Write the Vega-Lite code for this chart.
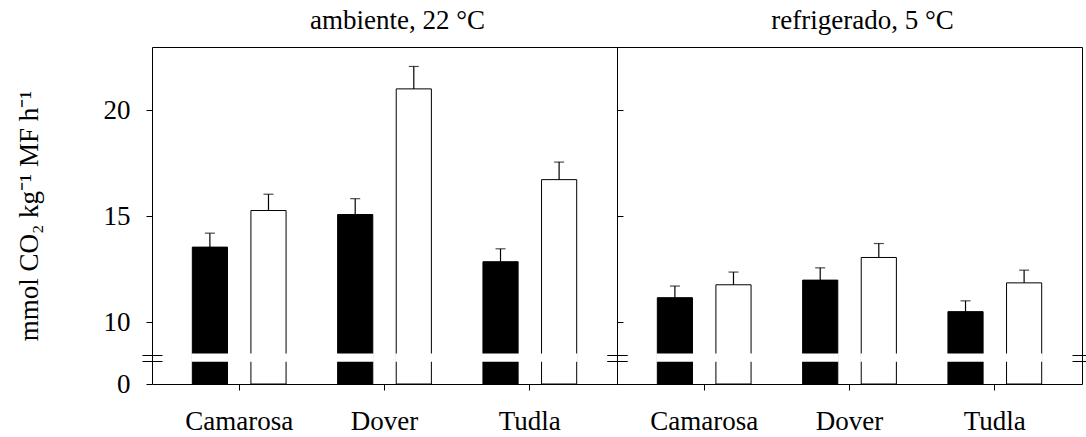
{
  "$schema": "https://vega.github.io/schema/vega-lite/v6.json",
  "padding": {"left": 14, "top": 6, "right": 0, "bottom": 0},
  "bounds": "flush",
  "background": "white",
  "config": {
    "font": "Liberation Serif",
    "view": {"stroke": "black", "strokeWidth": 1},
    "axis": {"domainColor": "black", "tickColor": "black", "labelColor": "black", "titleColor": "black", "labelFont": "Liberation Serif", "titleFont": "Liberation Serif", "labelFontSize": 27, "titleFontSize": 27, "titleFontWeight": "normal", "grid": false, "tickSize": 6, "domainWidth": 1, "tickWidth": 1},
    "title": {"font": "Liberation Serif", "fontSize": 27, "fontWeight": "normal", "color": "black"},
    "concat": {"spacing": 0}
  },
  "datasets": {
    "d": [
      {"panel": "ambiente", "cultivar": "Camarosa", "trat": "1", "valor": 13.54, "sup": 14.2},
      {"panel": "ambiente", "cultivar": "Camarosa", "trat": "2", "valor": 15.27, "sup": 16.04},
      {"panel": "ambiente", "cultivar": "Dover", "trat": "1", "valor": 15.08, "sup": 15.83},
      {"panel": "ambiente", "cultivar": "Dover", "trat": "2", "valor": 21.02, "sup": 22.08},
      {"panel": "ambiente", "cultivar": "Tudla", "trat": "1", "valor": 12.85, "sup": 13.46},
      {"panel": "ambiente", "cultivar": "Tudla", "trat": "2", "valor": 16.73, "sup": 17.56},
      {"panel": "refrigerado", "cultivar": "Camarosa", "trat": "1", "valor": 11.15, "sup": 11.7},
      {"panel": "refrigerado", "cultivar": "Camarosa", "trat": "2", "valor": 11.76, "sup": 12.36},
      {"panel": "refrigerado", "cultivar": "Dover", "trat": "1", "valor": 11.98, "sup": 12.56},
      {"panel": "refrigerado", "cultivar": "Dover", "trat": "2", "valor": 13.05, "sup": 13.71},
      {"panel": "refrigerado", "cultivar": "Tudla", "trat": "1", "valor": 10.49, "sup": 11.0},
      {"panel": "refrigerado", "cultivar": "Tudla", "trat": "2", "valor": 11.85, "sup": 12.45}
    ]
  },
  "hconcat": [
    {
      "width": 465, "height": 337,
      "title": {"text": "ambiente, 22 °C", "offset": 12, "dx": 13},
      "data": {"name": "d"},
      "transform": [{"filter": "datum.panel === 'ambiente'"}],
      "encoding": {
        "x": {"field": "cultivar", "type": "nominal", "sort": ["Camarosa", "Dover", "Tudla"], "scale": {"paddingInner": 0, "paddingOuter": 0.1}, "axis": {"title": null, "labelAngle": 0, "labelPadding": 18, "domain": false}},
        "xOffset": {"field": "trat", "type": "nominal", "scale": {"paddingInner": 0.4, "paddingOuter": 0.44}}
      },
      "layer": [
        {
          "mark": {"type": "bar", "stroke": "black", "strokeWidth": 1},
          "encoding": {
            "y": {"field": "valor", "type": "quantitative", "scale": {"domain": [0, 10, 23], "range": [337, 275, 0], "zero": false, "nice": false},
                  "axis": {"orient": "left", "values": [0, 10, 15, 20], "title": "mmol CO₂ kg⁻¹ MF h⁻¹", "labelPadding": 16, "titlePadding": 60, "domain": false}},
            "fill": {"field": "trat", "type": "nominal", "scale": {"domain": ["1", "2"], "range": ["black", "white"]}, "legend": null}
          }
        },
        {
          "mark": {"type": "bar", "fill": "white", "stroke": "white", "strokeWidth": 2},
          "encoding": {
            "y": {"datum": 3.75, "type": "quantitative", "scale": {"domain": [0, 10, 23], "range": [337, 275, 0], "zero": false, "nice": false},
                  "axis": {"orient": "left", "offset": -10, "tickSize": 20, "values": [3.75, 4.75], "labels": false, "domain": false, "title": null}},
            "y2": {"datum": 4.75}
          }
        },
        {
          "mark": {"type": "rule", "color": "black", "strokeWidth": 1.2},
          "encoding": {
            "y": {"field": "valor", "type": "quantitative", "scale": {"domain": [0, 10, 23], "range": [337, 275, 0], "zero": false, "nice": false},
                  "axis": {"orient": "right", "offset": -10, "tickSize": 20, "values": [3.75, 4.75], "labels": false, "domain": false, "title": null}},
            "y2": {"field": "sup"}
          }
        },
        {
          "mark": {"type": "tick", "color": "black", "size": 10, "thickness": 1.2, "orient": "horizontal"},
          "encoding": {
            "y": {"field": "sup", "type": "quantitative", "scale": {"domain": [0, 10, 23], "range": [337, 275, 0], "zero": false, "nice": false}, "axis": null}
          }
        }
      ],
      "resolve": {"axis": {"y": "independent"}}
    },
    {
      "width": 465, "height": 337,
      "title": {"text": "refrigerado, 5 °C", "offset": 12, "dx": 13},
      "data": {"name": "d"},
      "transform": [{"filter": "datum.panel === 'refrigerado'"}],
      "encoding": {
        "x": {"field": "cultivar", "type": "nominal", "sort": ["Camarosa", "Dover", "Tudla"], "scale": {"paddingInner": 0, "paddingOuter": 0.1}, "axis": {"title": null, "labelAngle": 0, "labelPadding": 18, "domain": false}},
        "xOffset": {"field": "trat", "type": "nominal", "scale": {"paddingInner": 0.4, "paddingOuter": 0.44}}
      },
      "layer": [
        {
          "mark": {"type": "bar", "stroke": "black", "strokeWidth": 1},
          "encoding": {
            "y": {"field": "valor", "type": "quantitative", "scale": {"domain": [0, 10, 23], "range": [337, 275, 0], "zero": false, "nice": false},
                  "axis": {"orient": "left", "offset": -6, "values": [10, 15, 20], "labels": false, "title": null, "domain": false}},
            "fill": {"field": "trat", "type": "nominal", "scale": {"domain": ["1", "2"], "range": ["black", "white"]}, "legend": null}
          }
        },
        {
          "mark": {"type": "bar", "fill": "white", "stroke": "white", "strokeWidth": 2},
          "encoding": {
            "y": {"datum": 3.75, "type": "quantitative", "scale": {"domain": [0, 10, 23], "range": [337, 275, 0], "zero": false, "nice": false},
                  "axis": {"orient": "left", "offset": -10, "tickSize": 20, "values": [3.75, 4.75], "labels": false, "domain": false, "title": null}},
            "y2": {"datum": 4.75}
          }
        },
        {
          "mark": {"type": "rule", "color": "black", "strokeWidth": 1.2},
          "encoding": {
            "y": {"field": "valor", "type": "quantitative", "scale": {"domain": [0, 10, 23], "range": [337, 275, 0], "zero": false, "nice": false},
                  "axis": {"orient": "right", "offset": -10, "tickSize": 20, "values": [3.75, 4.75], "labels": false, "domain": false, "title": null}},
            "y2": {"field": "sup"}
          }
        },
        {
          "mark": {"type": "tick", "color": "black", "size": 10, "thickness": 1.2, "orient": "horizontal"},
          "encoding": {
            "y": {"field": "sup", "type": "quantitative", "scale": {"domain": [0, 10, 23], "range": [337, 275, 0], "zero": false, "nice": false}, "axis": null}
          }
        }
      ],
      "resolve": {"axis": {"y": "independent"}}
    }
  ]
}
